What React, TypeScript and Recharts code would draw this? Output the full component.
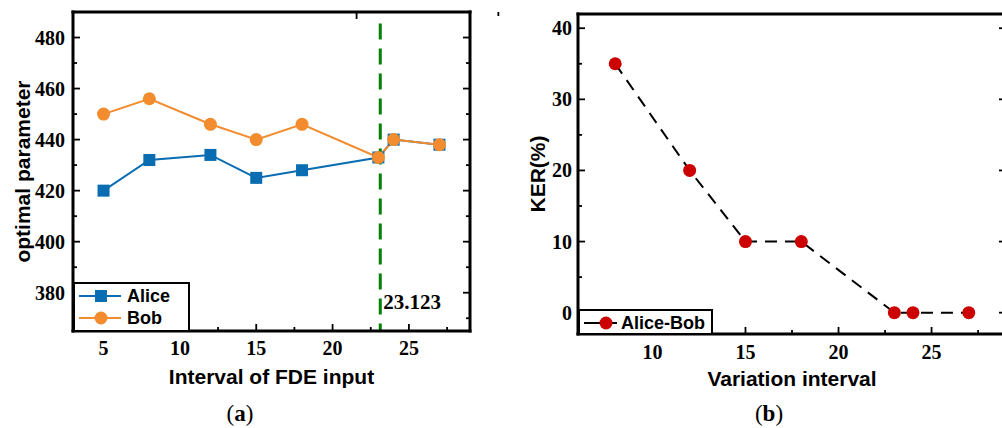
import { Label, Legend, Line, LineChart, ReferenceLine, XAxis, YAxis } from 'recharts'

// panel (a)
const fdeInterval = [5, 8, 12, 15, 18, 23, 24, 27]
const aliceParam = [420, 432, 434, 425, 428, 433, 440, 438]
const bobParam = [450, 456, 446, 440, 446, 433, 440, 438]
const thresholdX = 23.123
const leftXTicks = [5, 10, 15, 20, 25]
const leftXMinor = [7.5, 12.5, 17.5, 22.5, 27.5]
const leftYTicks = [380, 400, 420, 440, 460, 480]
const leftYMinor = [370, 390, 410, 430, 450, 470]

// panel (b)
const variationInterval = [8, 12, 15, 18, 23, 24, 27]
const kerPct = [35, 20, 10, 10, 0, 0, 0]
const rightXTicks = [10, 15, 20, 25]
const rightXMinor = [7.5, 12.5, 17.5, 22.5, 27.5]
const rightYTicks = [0, 10, 20, 30, 40]
const rightYMinor = [5, 15, 25, 35]

const BLUE = '#0a6db2'
const ORANGE = '#f28c2f'
const RED = '#cc0000'
const GREEN = '#008000'

const SERIF = '"Liberation Serif", "Times New Roman", serif'
const SANS = '"Liberation Sans", Arial, sans-serif'

const leftData = fdeInterval.map((x, i) => ({ x, alice: aliceParam[i], bob: bobParam[i] }))
const rightData = variationInterval.map((x, i) => ({ x, ker: kerPct[i] }))

const allTicks = (major: number[], minor: number[]) => [...major, ...minor].sort((a, b) => a - b)

// inward tick mark (longer for majors) plus the value on labelled sides
function FrameTick(props: any) {
  const { x, y, payload, side, majors, labelGap } = props
  const v = payload?.value
  const major = majors.includes(v)
  const len = major ? 7 : 4
  let line
  if (side === 'bottom') line = [x, y, x, y - len]
  else if (side === 'top') line = [x, y, x, y + len]
  else if (side === 'left') line = [x, y, x + len, y]
  else line = [x, y, x - len, y]
  return (
    <g>
      <line x1={line[0]} y1={line[1]} x2={line[2]} y2={line[3]} stroke="#000" strokeWidth={1.8} />
      {major && labelGap != null && (
        <text
          x={side === 'left' ? x - labelGap : x}
          y={side === 'bottom' ? y + labelGap : y}
          textAnchor={side === 'left' ? 'end' : 'middle'}
          dominantBaseline="central"
          fontFamily={SERIF}
          fontWeight={700}
          fontSize={20}
          fill="#000"
        >
          {v}
        </text>
      )}
    </g>
  )
}

function SquareDot(props: any) {
  const { cx, cy, index } = props
  if (cx == null || cy == null) return <g key={index} />
  return <rect key={index} x={cx - 6} y={cy - 6} width={12} height={12} fill={BLUE} />
}

function Marker({ kind, color }: { kind: string; color: string }) {
  return kind === 'square' ? (
    <rect x={18} y={4} width={12} height={12} fill={color} />
  ) : (
    <circle cx={24} cy={10} r={6.5} fill={color} />
  )
}

function LegendBox({ payload, shapes, markerColors }: any) {
  return (
    <div
      style={{
        border: '2px solid #000',
        background: '#fff',
        boxSizing: 'border-box',
        height: '100%',
        padding: '1px 6px 1px 2px',
        fontFamily: SANS,
        fontWeight: 700,
        fontSize: 18,
        whiteSpace: 'nowrap',
      }}
    >
      {(payload ?? []).map((p: any) => (
        <div key={p.value} style={{ display: 'flex', alignItems: 'center', height: 22 }}>
          <svg width={46} height={20}>
            <line x1={2} y1={10} x2={44} y2={10} stroke={p.color} strokeWidth={2} />
            <Marker kind={shapes[p.value]} color={markerColors[p.value] ?? p.color} />
          </svg>
          <span style={{ marginLeft: 4 }}>{p.value}</span>
        </div>
      ))}
    </div>
  )
}

function ThresholdLabel(props: any) {
  const { viewBox } = props
  if (!viewBox) return null
  return (
    <text
      x={viewBox.x + 3}
      y={viewBox.y + viewBox.height - 29}
      dominantBaseline="central"
      fontFamily={SERIF}
      fontWeight={700}
      fontSize={21}
      fill="#000"
    >
      {thresholdX}
    </text>
  )
}

function AxisTitle({ viewBox, value, vertical, shift }: any) {
  if (!viewBox) return null
  const common = {
    fontFamily: SANS,
    fontWeight: 700,
    fontSize: 21,
    fill: '#000',
    textAnchor: 'middle' as const,
    dominantBaseline: 'central' as const,
  }
  if (vertical) {
    const x = viewBox.x + viewBox.width - shift
    const y = viewBox.y + viewBox.height / 2
    return (
      <text {...common} x={x} y={y} transform={`rotate(-90 ${x} ${y})`}>
        {value}
      </text>
    )
  }
  return (
    <text {...common} x={viewBox.x + viewBox.width / 2} y={viewBox.y + shift}>
      {value}
    </text>
  )
}

const frame = { stroke: '#000', strokeWidth: 3, strokeLinecap: 'square' as const }

const caption = {
  position: 'absolute' as const,
  fontFamily: SERIF,
  fontSize: 23,
  transform: 'translate(-50%, -50%)',
  lineHeight: 1,
}

export default function App() {
  return (
    <div
      style={{
        position: 'absolute',
        left: 0,
        top: 0,
        width: 1002,
        height: 428,
        overflow: 'hidden',
        background: '#fff',
      }}
    >
      <div style={{ position: 'absolute', left: 0, top: 0 }}>
        <LineChart width={500} height={428} data={leftData} margin={{ top: 11, right: 29, bottom: 96, left: 72 }}>
          <XAxis xAxisId="main" dataKey="x" type="number" domain={[3, 29]} allowDataOverflow ticks={allTicks(leftXTicks, leftXMinor)} interval={0} height={1} tickSize={0} tickMargin={0} tickLine={false} stroke="#000" axisLine={frame} tick={<FrameTick side="bottom" majors={leftXTicks} labelGap={17} />}>
            <Label content={(p: any) => <AxisTitle {...p} value="Interval of FDE input" shift={45} />} />
          </XAxis>
          <XAxis xAxisId="top" orientation="top" type="number" domain={[3, 29]} allowDataOverflow ticks={allTicks(leftXTicks, leftXMinor)} interval={0} height={1} tickSize={0} tickMargin={0} tickLine={false} stroke="#000" axisLine={frame} tick={<FrameTick side="top" majors={leftXTicks} />} />
          <YAxis yAxisId="main" type="number" domain={[365, 490]} allowDataOverflow ticks={allTicks(leftYTicks, leftYMinor)} interval={0} width={1} tickSize={0} tickMargin={0} tickLine={false} stroke="#000" axisLine={frame} tick={<FrameTick side="left" majors={leftYTicks} labelGap={8} />}>
            <Label content={(p: any) => <AxisTitle {...p} value="optimal parameter" vertical shift={51} />} />
          </YAxis>
          <YAxis yAxisId="right" orientation="right" type="number" domain={[365, 490]} allowDataOverflow ticks={allTicks(leftYTicks, leftYMinor)} interval={0} width={1} tickSize={0} tickMargin={0} tickLine={false} stroke="#000" axisLine={frame} tick={<FrameTick side="right" majors={leftYTicks} />} />
          <Line xAxisId="main" yAxisId="main" dataKey="alice" name="Alice" stroke={BLUE} strokeWidth={2} dot={SquareDot} activeDot={false} isAnimationActive={false} />
          <Line xAxisId="main" yAxisId="main" dataKey="bob" name="Bob" stroke={ORANGE} strokeWidth={2} dot={{ r: 6.5, fill: ORANGE, stroke: 'none' }} activeDot={false} isAnimationActive={false} />
          <ReferenceLine
            xAxisId="main"
            yAxisId="main"
            segment={[{ x: thresholdX, y: 485.5 }, { x: thresholdX, y: 365 }]}
            stroke={GREEN}
            strokeWidth={3}
            strokeDasharray="16 9"
            label={<ThresholdLabel />}
          />
          <Legend
            layout="vertical"
            align="center"
            verticalAlign="middle"
            wrapperStyle={{ left: 73, top: 282, width: 117, height: 50 }}
            content={(p: any) => <LegendBox {...p} shapes={{ Alice: 'square', Bob: 'circle' }} markerColors={{}} />}
          />
        </LineChart>
      </div>

      <div style={{ position: 'absolute', left: 500, top: 0 }}>
        <LineChart width={512} height={428} data={rightData} margin={{ top: 13, right: 5, bottom: 93, left: 77 }}>
          <XAxis xAxisId="main" dataKey="x" type="number" domain={[6, 29]} allowDataOverflow ticks={allTicks(rightXTicks, rightXMinor)} interval={0} height={1} tickSize={0} tickMargin={0} tickLine={false} stroke="#000" axisLine={frame} tick={<FrameTick side="bottom" majors={rightXTicks} labelGap={18} />}>
            <Label content={(p: any) => <AxisTitle {...p} value="Variation interval" shift={44} />} />
          </XAxis>
          <XAxis xAxisId="top" orientation="top" type="number" domain={[6, 29]} allowDataOverflow ticks={allTicks(rightXTicks, rightXMinor)} interval={0} height={1} tickSize={0} tickMargin={0} tickLine={false} stroke="#000" axisLine={frame} tick={<FrameTick side="top" majors={rightXTicks} />} />
          <YAxis yAxisId="main" type="number" domain={[-3, 42]} allowDataOverflow ticks={allTicks(rightYTicks, rightYMinor)} interval={0} width={1} tickSize={0} tickMargin={0} tickLine={false} stroke="#000" axisLine={frame} tick={<FrameTick side="left" majors={rightYTicks} labelGap={6} />}>
            <Label content={(p: any) => <AxisTitle {...p} value="KER(%)" vertical shift={41} />} />
          </YAxis>
          <YAxis yAxisId="right" orientation="right" type="number" domain={[-3, 42]} allowDataOverflow ticks={allTicks(rightYTicks, rightYMinor)} interval={0} width={1} tickSize={0} tickMargin={0} tickLine={false} stroke="#000" axisLine={frame} tick={<FrameTick side="right" majors={rightYTicks} />} />
          <Line xAxisId="main" yAxisId="main" dataKey="ker" name="Alice-Bob" stroke="#000" strokeWidth={2} strokeDasharray="12 8" dot={{ r: 6.5, fill: RED, stroke: 'none' }} activeDot={false} isAnimationActive={false} />
          <Legend
            layout="vertical"
            align="center"
            verticalAlign="middle"
            wrapperStyle={{ left: 78, top: 309, width: 135, height: 26 }}
            content={(p: any) => <LegendBox {...p} shapes={{ 'Alice-Bob': 'circle' }} markerColors={{ 'Alice-Bob': RED }} />}
          />
        </LineChart>
      </div>

      <div style={{ ...caption, left: 240, top: 413 }}>
        (<b>a</b>)
      </div>
      <div style={{ ...caption, left: 769, top: 413 }}>
        (<b>b</b>)
      </div>
    </div>
  )
}
